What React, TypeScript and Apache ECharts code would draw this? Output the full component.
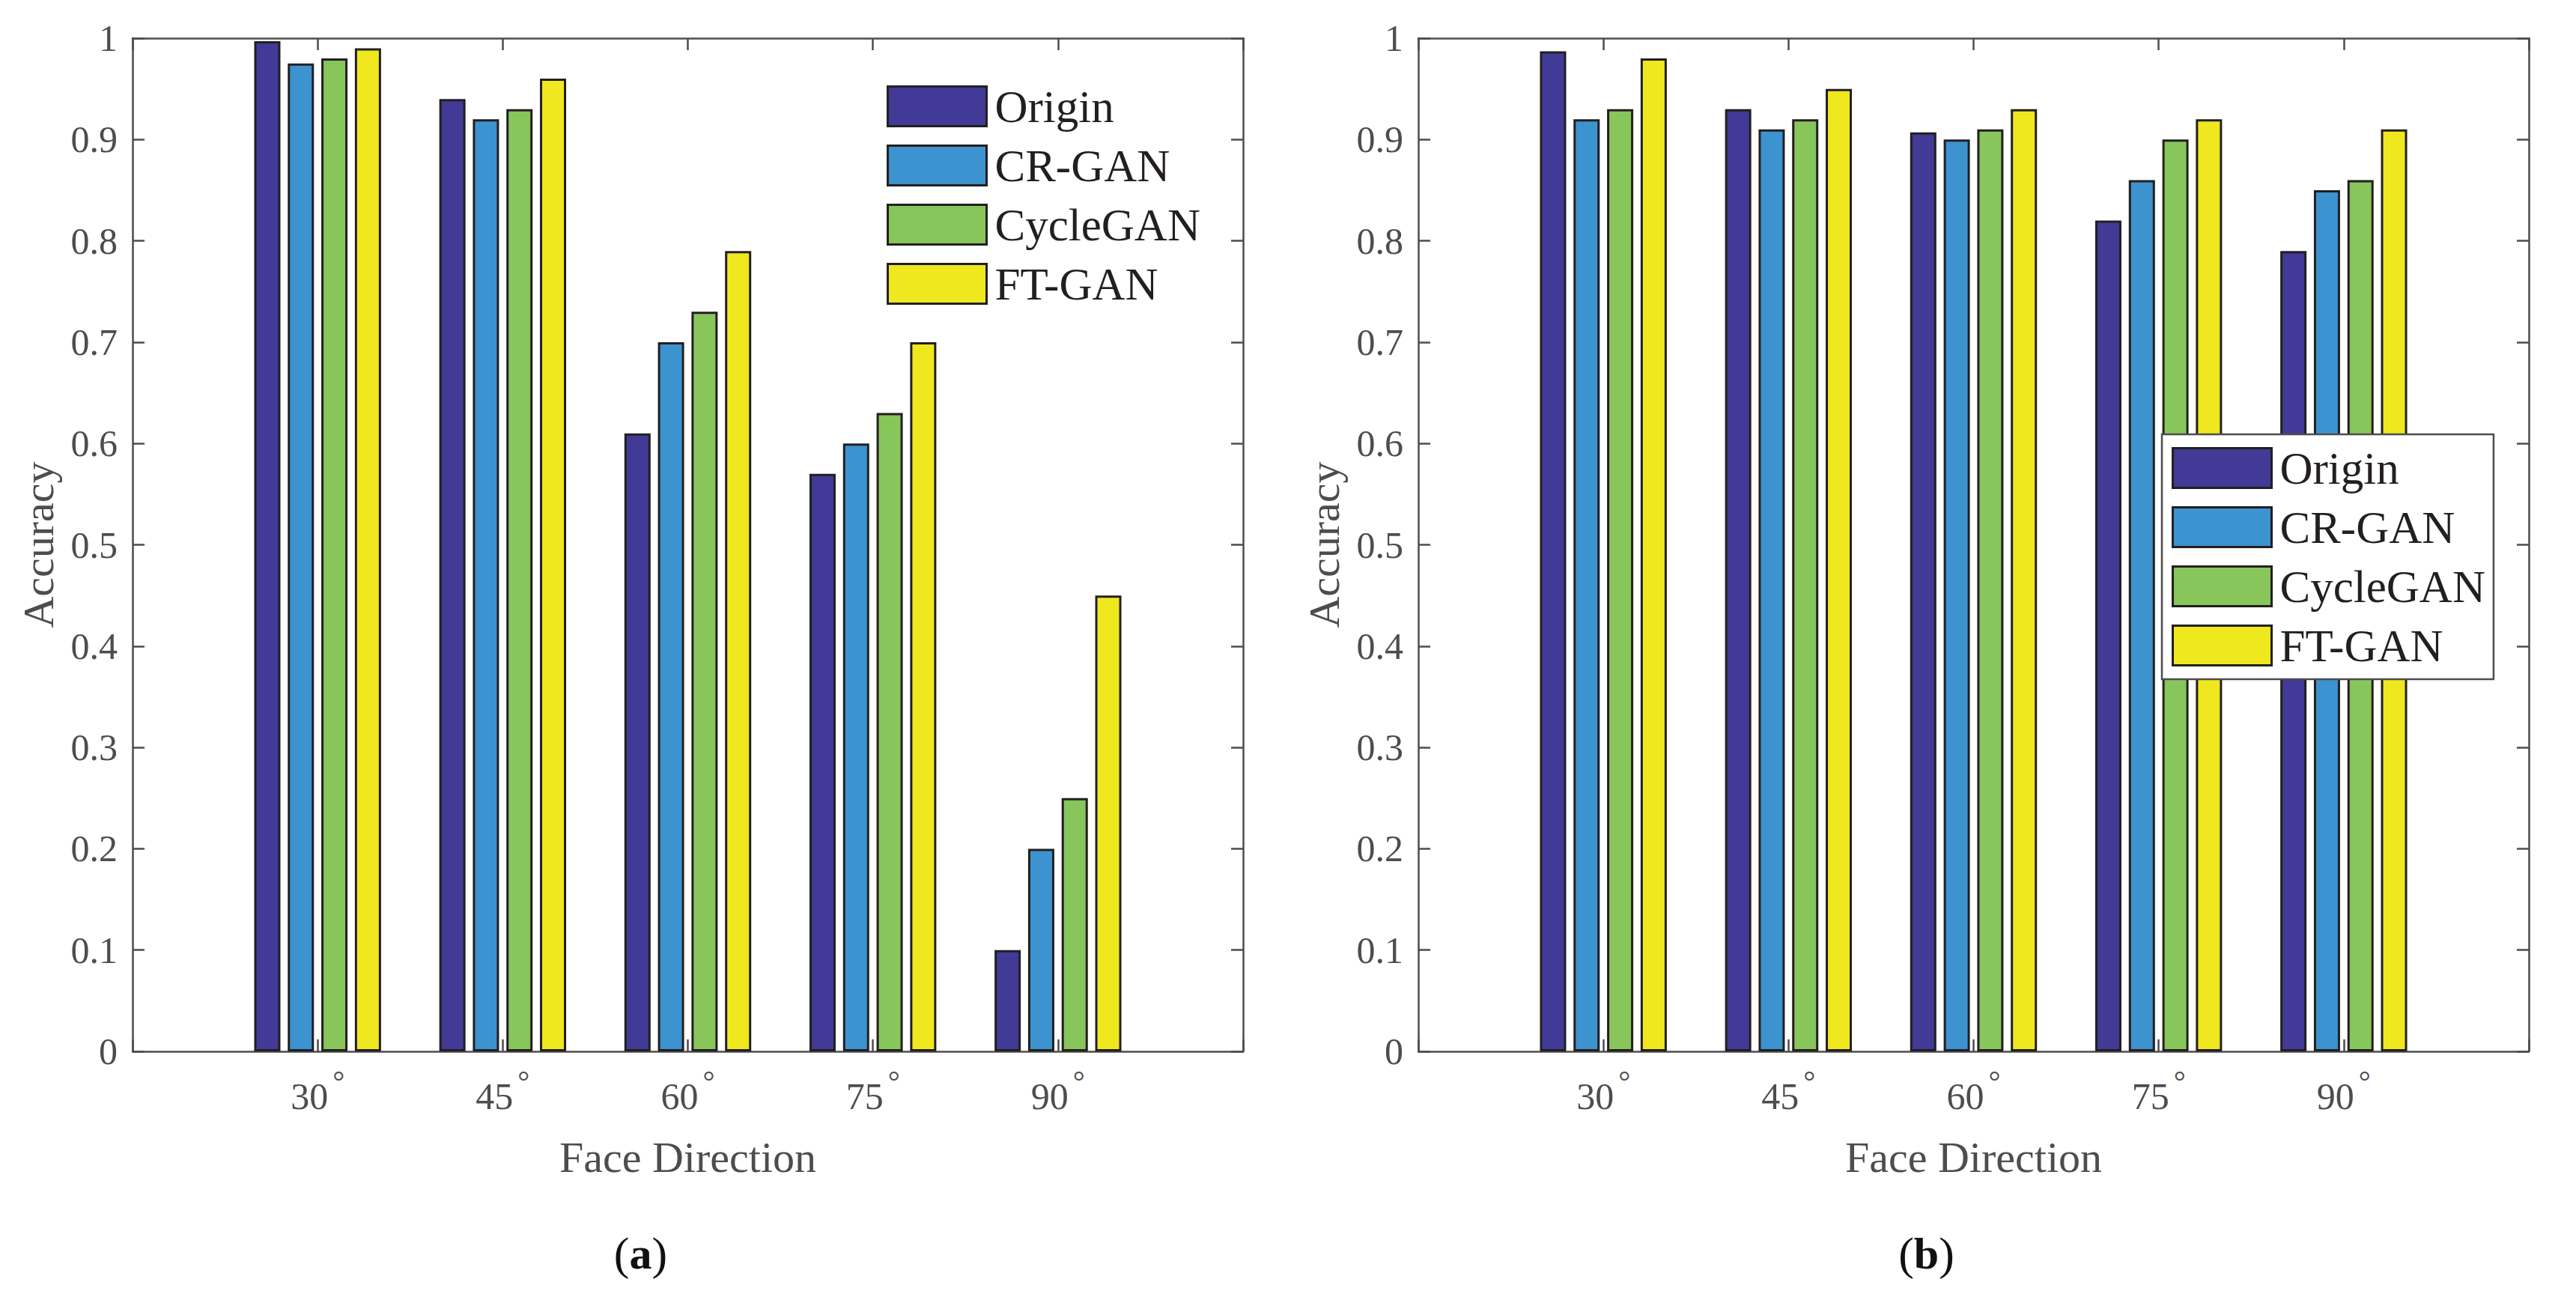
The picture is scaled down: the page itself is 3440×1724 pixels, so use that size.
import React, { useEffect, useRef } from 'react';
import * as echarts from 'echarts';

// ---------- data ----------
const categories = ['30', '45', '60', '75', '90'];
const seriesNames = ['Origin', 'CR-GAN', 'CycleGAN', 'FT-GAN'];
const seriesColors = ['#413a96', '#3d92d0', '#88c55b', '#f0e81f'];

// panel (a)
const originA = [0.997, 0.94, 0.61, 0.57, 0.1];
const crganA = [0.975, 0.92, 0.7, 0.6, 0.2];
const cycleganA = [0.98, 0.93, 0.73, 0.63, 0.25];
const ftganA = [0.99, 0.96, 0.79, 0.7, 0.45];

// panel (b)
const originB = [0.987, 0.93, 0.907, 0.82, 0.79];
const crganB = [0.92, 0.91, 0.9, 0.86, 0.85];
const cycleganB = [0.93, 0.92, 0.91, 0.9, 0.86];
const ftganB = [0.98, 0.95, 0.93, 0.92, 0.91];

const xAxisTitle = 'Face Direction';
const yAxisTitle = 'Accuracy';
const captionLetters = ['a', 'b'];
const degreeMark = '°';

// ---------- styling ----------
const FONT = '"Liberation Serif", "Times New Roman", serif';
const AX = '#4d4d4d';
const EDGE = '#231f20';
const GRID_LEFTS = [177, 1894];
const GRID_TOP = 51;
const GRID_W = 1483;
const GRID_H = 1353;

const padded = ['pad0', ...categories, 'pad6'];

function App() {
  const ref = useRef<HTMLDivElement>(null);

  useEffect(() => {
    if (!ref.current) return;
    const chart = echarts.init(ref.current, null, { renderer: 'svg' });

    const lineStyle = { color: AX, width: 2.5 };
    const panels = [
      [originA, crganA, cycleganA, ftganA],
      [originB, crganB, cycleganB, ftganB],
    ];

    const grid: any[] = [];
    const xAxis: any[] = [];
    const yAxis: any[] = [];
    const series: any[] = [];

    panels.forEach((vals, i) => {
      grid.push({
        left: GRID_LEFTS[i],
        top: GRID_TOP,
        width: GRID_W,
        height: GRID_H,
        containLabel: false,
      });
      // bottom x axis
      xAxis.push({
        type: 'category',
        gridIndex: i,
        data: padded,
        boundaryGap: false,
        position: 'bottom',
        axisLine: { show: true, onZero: false, lineStyle },
        axisTick: { show: true, inside: true, length: 16, interval: 0, lineStyle },
        axisLabel: {
          show: true,
          interval: 0,
          margin: 35,
          formatter: (v: string) =>
            categories.includes(v) ? `{n|${v}}{s|${degreeMark}}` : '',
          rich: {
            n: { fontFamily: FONT, fontSize: 50, lineHeight: 50, color: AX, verticalAlign: 'bottom' },
            s: {
              fontFamily: FONT,
              fontSize: 40,
              lineHeight: 40,
              color: AX,
              padding: [0, 0, 25, 6],
              verticalAlign: 'bottom',
            },
          },
        },
        splitLine: { show: false },
        name: xAxisTitle,
        nameLocation: 'middle',
        nameGap: 112,
        nameTextStyle: { fontFamily: FONT, fontSize: 58, color: AX },
      });
      // top x axis (box + ticks)
      xAxis.push({
        type: 'category',
        gridIndex: i,
        data: padded,
        boundaryGap: false,
        position: 'top',
        axisLine: { show: true, onZero: false, lineStyle },
        axisTick: { show: true, inside: true, length: 16, interval: 0, lineStyle },
        axisLabel: { show: false },
        splitLine: { show: false },
      });
      // left y axis
      yAxis.push({
        type: 'value',
        gridIndex: i,
        min: 0,
        max: 1,
        interval: 0.1,
        position: 'left',
        axisLine: { show: true, onZero: false, lineStyle },
        axisTick: { show: true, inside: true, length: 16, lineStyle },
        axisLabel: {
          margin: 20,
          fontFamily: FONT,
          fontSize: 50,
          color: AX,
          formatter: (v: number) => String(+v.toFixed(1)),
        },
        splitLine: { show: false },
        name: yAxisTitle,
        nameLocation: 'middle',
        nameGap: 97,
        nameTextStyle: { fontFamily: FONT, fontSize: 58, color: AX },
      });
      // right y axis (box + ticks)
      yAxis.push({
        type: 'value',
        gridIndex: i,
        min: 0,
        max: 1,
        interval: 0.1,
        position: 'right',
        axisLine: { show: true, onZero: false, lineStyle },
        axisTick: { show: true, inside: true, length: 16, lineStyle },
        axisLabel: { show: false },
        splitLine: { show: false },
      });

      vals.forEach((arr, k) => {
        series.push({
          type: 'bar',
          name: seriesNames[k],
          xAxisIndex: i * 2,
          yAxisIndex: i * 2,
          data: ['-', ...arr, '-'],
          barWidth: 35,
          barGap: '28%',
          itemStyle: {
            color: seriesColors[k],
            borderColor: EDGE,
            borderWidth: 3,
          },
          emphasis: { disabled: true },
        });
      });
    });

    const legendBase = {
      orient: 'vertical',
      data: seriesNames,
      icon: 'rect',
      itemWidth: 132,
      itemHeight: 53,
      itemGap: 18,
      selectedMode: false,
      itemStyle: { borderColor: EDGE, borderWidth: 3 },
      textStyle: {
        fontFamily: FONT,
        fontSize: 61,
        lineHeight: 53,
        color: EDGE,
        padding: [0, 0, 0, 6],
      },
    };

    chart.setOption({
      animation: false,
      backgroundColor: '#ffffff',
      grid,
      xAxis,
      yAxis,
      series,
      legend: [
        { ...legendBase, left: 1184, top: 111.5, padding: 0 },
        {
          ...legendBase,
          left: 2887,
          top: 580,
          padding: [14.5, 11, 14.5, 13],
          backgroundColor: '#ffffff',
          borderColor: AX,
          borderWidth: 2.5,
        },
      ],
      graphic: captionLetters.map((c, i) => ({
        type: 'text',
        x: GRID_LEFTS[i] + GRID_W / 2 - 63,
        y: 1674,
        style: {
          text: `{p|(}{b|${c}}{p|)}`,
          textAlign: 'center',
          textVerticalAlign: 'middle',
          rich: {
            p: { fontFamily: FONT, fontSize: 62, fill: '#111111', fontWeight: 'normal' },
            b: { fontFamily: FONT, fontSize: 60, fill: '#111111', fontWeight: 'bold' },
          },
        },
      })),
    });

    return () => chart.dispose();
  }, []);

  return (
    <div
      ref={ref}
      style={{ position: 'absolute', left: 0, top: 0, width: 3440, height: 1724 }}
    />
  );
}

export default App;
